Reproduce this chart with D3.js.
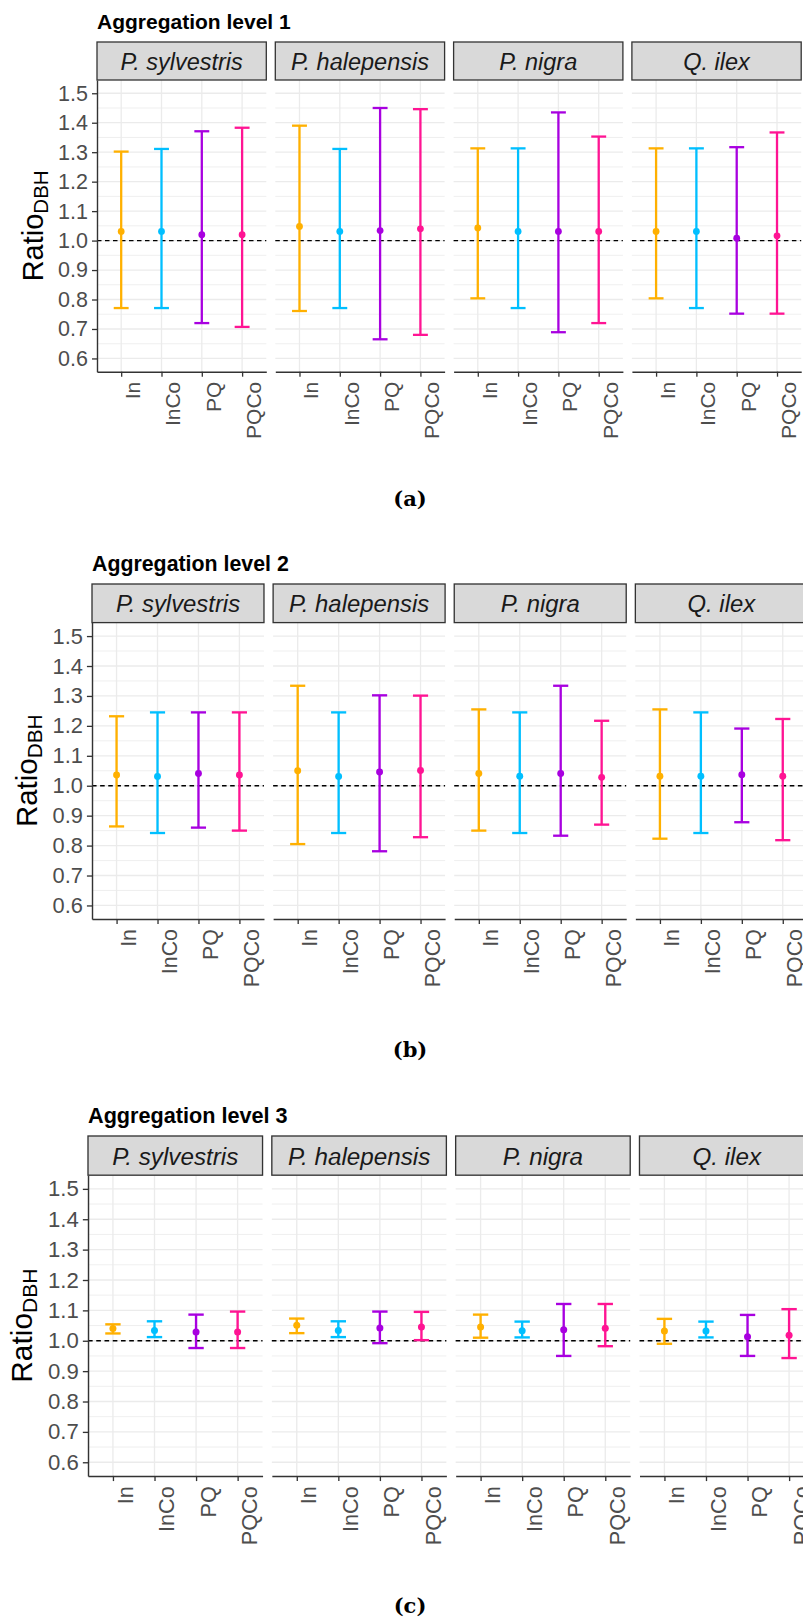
<!DOCTYPE html>
<html><head><meta charset="utf-8">
<script src="https://cdn.jsdelivr.net/npm/d3@7"></script>
<style>body{margin:0;background:#fff;} svg{display:block;}</style>
</head><body>
<svg id="chart" width="803" height="1619"></svg>
<script>
// ---------------- data ----------------
const species = ["P. sylvestris", "P. halepensis", "P. nigra", "Q. ilex"];
const methods = ["In", "InCo", "PQ", "PQCo"];
const methodColors = ["#FFB000", "#00BFFF", "#A800E0", "#FF1493"];
const yTicks = [0.6, 0.7, 0.8, 0.9, 1.0, 1.1, 1.2, 1.3, 1.4, 1.5];
const yMinor = [0.65, 0.75, 0.85, 0.95, 1.05, 1.15, 1.25, 1.35, 1.45];
const yLimits = [0.6, 1.5];
const refLine = 1.0;
const levelTitles = ["Aggregation level 1", "Aggregation level 2", "Aggregation level 3"];
const captions = ["(a)", "(b)", "(c)"];

// rows = species, columns = methods
const level1Mean  = [[1.031,1.031,1.020,1.020],[1.048,1.031,1.034,1.040],[1.043,1.031,1.031,1.031],[1.031,1.031,1.008,1.016]];
const level1Lower = [[0.771,0.771,0.720,0.707],[0.761,0.771,0.665,0.680],[0.804,0.771,0.689,0.720],[0.804,0.771,0.752,0.752]];
const level1Upper = [[1.302,1.311,1.371,1.383],[1.390,1.311,1.450,1.446],[1.313,1.313,1.435,1.353],[1.313,1.313,1.317,1.367]];

const level2Mean  = [[1.036,1.031,1.041,1.036],[1.050,1.031,1.046,1.051],[1.041,1.032,1.041,1.028],[1.032,1.032,1.037,1.032]];
const level2Lower = [[0.864,0.842,0.860,0.850],[0.805,0.842,0.781,0.828],[0.850,0.842,0.833,0.870],[0.823,0.842,0.878,0.818]];
const level2Upper = [[1.232,1.245,1.245,1.245],[1.334,1.245,1.302,1.301],[1.255,1.245,1.334,1.217],[1.255,1.245,1.191,1.223]];

const level3Mean  = [[1.040,1.034,1.029,1.029],[1.051,1.034,1.042,1.045],[1.045,1.033,1.036,1.041],[1.032,1.032,1.013,1.018]];
const level3Lower = [[1.024,1.012,0.976,0.976],[1.025,1.012,0.992,1.002],[1.010,1.011,0.950,0.982],[0.990,1.011,0.950,0.943]];
const level3Upper = [[1.054,1.064,1.086,1.096],[1.073,1.064,1.096,1.095],[1.086,1.063,1.121,1.121],[1.072,1.063,1.085,1.104]];

const levelData = [
  {mean: level1Mean, lower: level1Lower, upper: level1Upper},
  {mean: level2Mean, lower: level2Lower, upper: level2Upper},
  {mean: level3Mean, lower: level3Lower, upper: level3Upper}
];

// ---------------- layout ----------------
const groupLayout = [
  {x: 97, y: 42,   s: 1.0},
  {x: 92, y: 584,  s: 1.0158},
  {x: 88, y: 1136, s: 1.031}
];
const captionLayout = [{x: 410, y: 506}, {x: 410, y: 1057}, {x: 410, y: 1613}];

const panelW = 169.3, panelGap = 9;
const stripH = 38, panelBottom = 329.7;
const totalW = 4 * panelW + 3 * panelGap;
const sans = "'Liberation Sans', Arial, sans-serif";

const svg = d3.select("#chart");

const fx = d3.scaleBand().domain(species).range([0, totalW])
  .paddingInner(panelGap / (panelW + panelGap)).paddingOuter(0);
const x = d3.scalePoint().domain(methods).range([0, fx.bandwidth()]).padding(0.6);
const yExp = (yLimits[1] - yLimits[0]) * 0.05;
const y = d3.scaleLinear().domain([yLimits[0] - yExp, yLimits[1] + yExp]).range([panelBottom, stripH]);
const color = d3.scaleOrdinal().domain(methods).range(methodColors);
const capHalf = x.step() * 0.185;

levelData.forEach((ld, li) => {
  const L = groupLayout[li];
  const g = svg.append("g").attr("transform", `translate(${L.x},${L.y}) scale(${L.s})`);

  g.append("text").attr("x", 0).attr("y", -13)
    .attr("font-family", sans).attr("font-weight", "bold").attr("font-size", 21)
    .attr("fill", "#000").text(levelTitles[li]);

  // y-axis title
  const yt = g.append("text")
    .attr("transform", `translate(-54,${(stripH + panelBottom) / 2}) rotate(-90)`)
    .attr("text-anchor", "middle").attr("font-family", sans).attr("fill", "#000");
  yt.append("tspan").attr("font-size", 29).text("Ratio");
  yt.append("tspan").attr("font-size", 20.5).attr("dy", 5).text("DBH");

  species.forEach((sp, si) => {
    const p = g.append("g").attr("transform", `translate(${fx(sp)},0)`);
    const bw = fx.bandwidth();

    // grid
    p.selectAll(".minor").data(yMinor).join("line")
      .attr("x1", 0).attr("x2", bw).attr("y1", d => y(d)).attr("y2", d => y(d))
      .attr("stroke", "#EBEBEB").attr("stroke-width", 0.8);
    p.selectAll(".major").data(yTicks).join("line")
      .attr("x1", 0).attr("x2", bw).attr("y1", d => y(d)).attr("y2", d => y(d))
      .attr("stroke", "#EBEBEB").attr("stroke-width", 1.3);
    p.selectAll(".vmajor").data(methods).join("line")
      .attr("x1", d => x(d)).attr("x2", d => x(d)).attr("y1", stripH).attr("y2", panelBottom)
      .attr("stroke", "#EBEBEB").attr("stroke-width", 1.3);

    // strip
    p.append("rect").attr("x", 0).attr("y", 0).attr("width", bw).attr("height", stripH)
      .attr("fill", "#D9D9D9").attr("stroke", "#333333").attr("stroke-width", 1.3);
    p.append("text").attr("x", bw / 2).attr("y", 28).attr("text-anchor", "middle")
      .attr("font-family", sans).attr("font-style", "italic").attr("font-size", 23.5)
      .attr("fill", "#1A1A1A").text(sp);

    // reference line
    p.append("line").attr("x1", 0).attr("x2", bw).attr("y1", y(refLine)).attr("y2", y(refLine))
      .attr("stroke", "#000").attr("stroke-width", 1.3).attr("stroke-dasharray", "4.5,3.5");

    const rows = methods.map((m, mi) => ({
      m, mean: ld.mean[si][mi], lo: ld.lower[si][mi], hi: ld.upper[si][mi]
    }));

    const eb = p.selectAll(".eb").data(rows).join("g").attr("stroke", d => color(d.m))
      .attr("stroke-width", 2.3).attr("fill", "none");
    eb.append("line").attr("x1", d => x(d.m)).attr("x2", d => x(d.m))
      .attr("y1", d => y(d.lo)).attr("y2", d => y(d.hi));
    eb.append("line").attr("x1", d => x(d.m) - capHalf).attr("x2", d => x(d.m) + capHalf)
      .attr("y1", d => y(d.hi)).attr("y2", d => y(d.hi));
    eb.append("line").attr("x1", d => x(d.m) - capHalf).attr("x2", d => x(d.m) + capHalf)
      .attr("y1", d => y(d.lo)).attr("y2", d => y(d.lo));
    p.selectAll(".pt").data(rows).join("circle")
      .attr("cx", d => x(d.m)).attr("cy", d => y(d.mean)).attr("r", 3.4)
      .attr("fill", d => color(d.m));

    // bottom axis
    const ax = p.append("g").attr("transform", `translate(0,${panelBottom})`)
      .call(d3.axisBottom(x).tickSize(5).tickSizeOuter(0).tickPadding(3));
    ax.attr("font-family", sans).attr("font-size", 21);
    ax.select(".domain").attr("stroke", "#333333").attr("stroke-width", 1.4);
    ax.selectAll(".tick line").attr("stroke", "#333333").attr("stroke-width", 1.3);
    ax.selectAll(".tick text").attr("fill", "#4D4D4D")
      .attr("transform", "rotate(-90)").attr("x", -10).attr("y", 18.5).attr("dy", 0)
      .attr("text-anchor", "end");

    if (si === 0) {
      const ay = p.append("g")
        .call(d3.axisLeft(y).tickValues(yTicks).tickFormat(d3.format(".1f"))
          .tickSize(5).tickSizeOuter(0).tickPadding(4));
      ay.attr("font-family", sans).attr("font-size", 21.5);
      ay.select(".domain").attr("stroke", "#333333").attr("stroke-width", 1.4);
      ay.selectAll(".tick line").attr("stroke", "#333333").attr("stroke-width", 1.3);
      ay.selectAll(".tick text").attr("fill", "#4D4D4D");
    }
  });

  const C = captionLayout[li];
  svg.append("text").attr("x", C.x).attr("y", C.y).attr("text-anchor", "middle")
    .attr("font-family", "'DejaVu Serif', 'Liberation Serif', serif").attr("font-weight", "bold")
    .attr("font-size", 21).attr("fill", "#000").text(captions[li]);
});
</script>
</body></html>
